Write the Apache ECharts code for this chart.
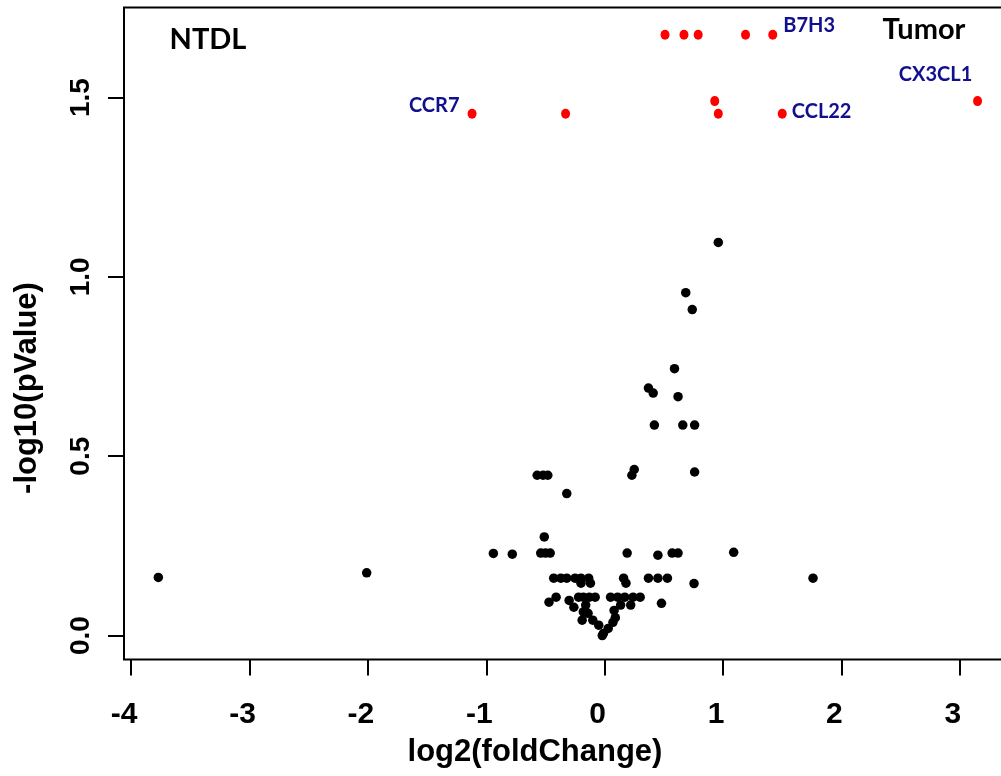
<!DOCTYPE html>
<html>
<head>
<meta charset="utf-8">
<script src="https://cdn.jsdelivr.net/npm/echarts@6/dist/echarts.min.js"></script>
<style>html,body{margin:0;padding:0;background:#fff}#c{width:1001px;height:776px}</style>
</head>
<body>
<div id="c"></div>
<script>
// ---- data ----
const blackX = [-3.77,-2.01,0.96,0.685,0.74,0.59,0.62,0.37,0.41,0.42,0.66,0.76,0.25,0.23,0.76,-0.57,-0.52,-0.48,-0.32,-0.51,
  -0.94,-0.78,-0.54,-0.50,-0.46,0.19,0.45,0.57,0.62,1.09,0.755,1.76,
  -0.43,-0.37,-0.32,-0.25,-0.20,-0.135,-0.20,-0.12,0.16,0.18,0.37,0.45,0.53,
  -0.47,-0.41,-0.30,-0.26,-0.22,-0.18,-0.13,-0.08,-0.16,-0.19,-0.14,-0.10,-0.05,-0.01,0.03,0.07,0.09,0.08,
  0.05,0.11,0.17,0.24,0.30,0.135,0.22,0.48,-0.02,-0.18];
const blackY = [0.162,0.175,1.096,0.956,0.909,0.744,0.666,0.69,0.676,0.587,0.587,0.587,0.463,0.447,0.456,0.447,0.447,0.447,0.396,0.275,
  0.229,0.227,0.23,0.23,0.23,0.23,0.224,0.23,0.23,0.232,0.145,0.16,
  0.16,0.16,0.16,0.16,0.16,0.16,0.146,0.146,0.16,0.146,0.16,0.16,0.16,
  0.093,0.107,0.098,0.079,0.107,0.107,0.107,0.107,0.085,0.043,0.062,0.043,0.029,0.006,0.02,0.037,0.05,0.07,
  0.107,0.107,0.107,0.107,0.107,0.085,0.085,0.09,0.0,0.066];
const redX = [0.51,0.67,0.79,1.19,1.42,0.93,3.15,-1.12,-0.33,0.96,1.50];
const redY = [1.675,1.675,1.675,1.675,1.675,1.49,1.49,1.455,1.455,1.455,1.455];
const redNames = ['','','','','B7H3','','CX3CL1','CCR7','','','CCL22'];
const xTicks = [-4,-3,-2,-1,0,1,2,3];
const yTicks = [0,0.5,1,1.5];
const xTitle = 'log2(foldChange)';
const yTitle = '-log10(pValue)';
const leftTag = 'NTDL';
const rightTag = 'Tumor';

// ---- chart ----
const axisFont = "'Liberation Sans', Arial, Helvetica, sans-serif";
const tagFont = "Lato, 'Open Sans', sans-serif";
const labelPos = {
  'B7H3':  {position:'right', distance:5, offset:[1,-9]},
  'CCL22': {position:'right', distance:5, offset:[0,-2]},
  'CCR7':  {position:'left',  distance:5, offset:[-3,-8]},
  'CX3CL1':{position:'top',   distance:5, offset:[-42,-7]}
};
const blackData = blackX.map((x,i)=>[x, blackY[i]]);
const redData = redX.map((x,i)=>{
  const item = {value:[x, redY[i]], name: redNames[i]};
  if (redNames[i]) {
    item.label = Object.assign({show:true, formatter: redNames[i], color:'#10108f', opacity:1,
      fontFamily: tagFont, fontWeight:'bold', fontSize:20}, labelPos[redNames[i]]);
  }
  return item;
});

const chart = echarts.init(document.getElementById('c'), null, {renderer:'canvas'});
chart.setOption({
  animation:false,
  backgroundColor:'#ffffff',
  grid:{left:124, top:7.5, width:895, height:652, show:true, borderColor:'#000', borderWidth:2,
        backgroundColor:'transparent', containLabel:false, outerBoundsMode:'none'},
  xAxis:{type:'value', min:-4.06, max:3.5, position:'bottom',
    axisLine:{show:false, onZero:false}, splitLine:{show:false},
    axisTick:{show:true, inside:false, length:16, lineStyle:{color:'#000', width:2}, customValues:xTicks},
    axisLabel:{customValues:xTicks, margin:40, fontSize:30, fontWeight:'bold', color:'#000', fontFamily:axisFont,
      padding:[0,14,0,0], formatter:(v)=>String(v)}
  },
  yAxis:{type:'value', min:-0.0667, max:1.751, position:'left',
    axisLine:{show:false, onZero:false}, splitLine:{show:false},
    axisTick:{show:true, inside:false, length:16, lineStyle:{color:'#000', width:2}, customValues:yTicks},
    axisLabel:{customValues:yTicks, rotate:90, margin:29, fontSize:28, fontWeight:'bold', color:'#000', fontFamily:axisFont,
      formatter:(v)=>Number(v).toFixed(1)}
  },
  series:[
    {type:'scatter', data:blackData, symbol:'circle', symbolSize:9.5, itemStyle:{color:'#000', opacity:1}, silent:true},
    {type:'scatter', data:redData, symbol:'circle', symbolSize:[9,10], itemStyle:{color:'#ff0000', opacity:1}, silent:true,
     label:{show:false}}
  ],
  graphic:[
    {type:'text', x:535, y:752, style:{text:xTitle, font:"bold 31px "+axisFont, fill:'#000', textAlign:'center', textVerticalAlign:'middle'}},
    {type:'text', x:27, y:388, rotation:Math.PI/2, style:{text:yTitle, font:"bold 31px "+axisFont, fill:'#000', textAlign:'center', textVerticalAlign:'middle'}},
    {type:'text', x:208, y:40, style:{text:leftTag, font:"bold 29px "+tagFont, fill:'#000', textAlign:'center', textVerticalAlign:'middle'}},
    {type:'text', x:924, y:30, style:{text:rightTag, font:"bold 29px "+tagFont, fill:'#000', textAlign:'center', textVerticalAlign:'middle'}}
  ]
});
</script>
</body>
</html>
